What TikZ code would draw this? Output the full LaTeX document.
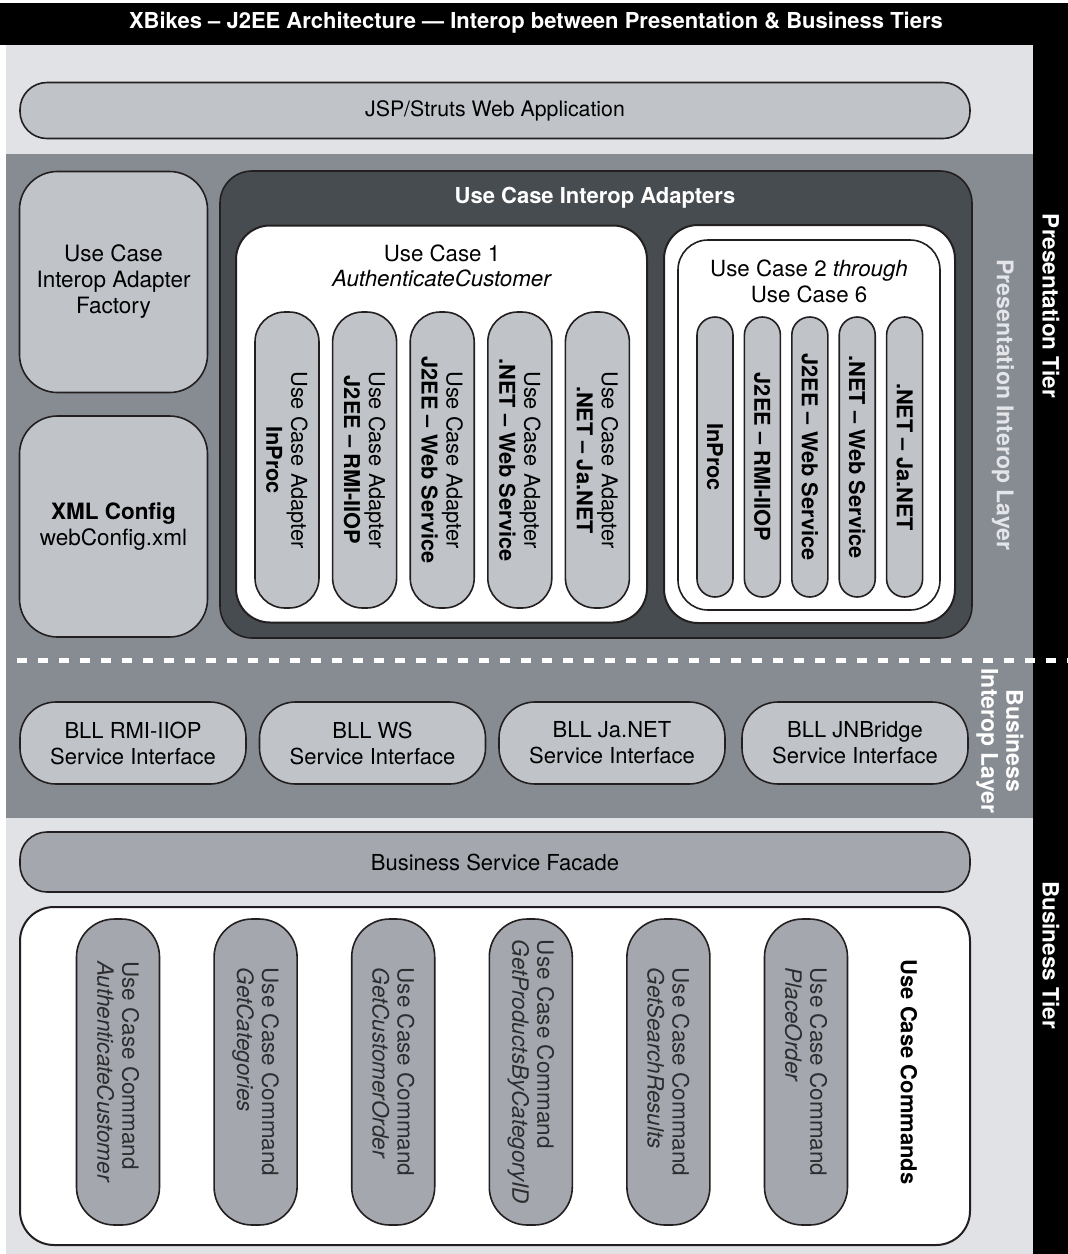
\documentclass[tikz,border=0pt]{standalone}
\usepackage{fontspec}
\setmainfont{TeX Gyre Heros}

\definecolor{pagegray}{RGB}{225,226,230}
\definecolor{layergray}{RGB}{135,140,146}
\definecolor{slate}{RGB}{71,76,80}
\definecolor{pillgray}{RGB}{192,195,200}
\definecolor{cmdgray}{RGB}{164,168,174}
\definecolor{cmdtext}{RGB}{45,45,48}
\definecolor{edge}{RGB}{35,31,32}
\definecolor{paletext}{RGB}{228,229,232}

\newcommand{\pxfont}[2]{\fontsize{#1}{#2}\selectfont}

\tikzset{
  box/.style={draw=edge, line width=1.6pt, align=center, inner sep=0pt},
  band/.style={box, minimum width=950, minimum height=56, rounded corners=27, font=\pxfont{21.3}{25}},
  panel/.style={box, fill=pillgray, minimum width=188, minimum height=221, rounded corners=38, font=\pxfont{22.5}{26}},
  adapter/.style={box, fill=pillgray, rotate=-90, minimum width=296, minimum height=64, rounded corners=30, font=\pxfont{21.8}{25}},
  stub/.style={box, fill=pillgray, rotate=-90, minimum width=280, minimum height=36, rounded corners=18, font=\pxfont{21.8}{25}\bfseries},
  bll/.style={box, fill=pillgray, minimum width=226, minimum height=82, rounded corners=36, font=\pxfont{22}{26}},
  command/.style={box, fill=cmdgray, rotate=-90, minimum width=306, minimum height=83, rounded corners=38, align=left, text=cmdtext, font=\pxfont{22.5}{25}},
  tier/.style={rotate=-90, text=white, font=\pxfont{22.5}{25}\bfseries},
}

\begin{document}
\begin{tikzpicture}[x=1pt,y=-1pt]
  \useasboundingbox (0,0) rectangle (1068,1254);
  % backdrop, layers and tier column
  \fill[white] (0,0) rectangle (1068,1254);
  \fill[pagegray] (6,45) rectangle (1033,1254);
  \fill[layergray] (6,154) rectangle (1033,818);
  \fill[black] (0,3) rectangle (1068,45);
  \fill[black] (1033,3) rectangle (1068,1254);
  \draw[white, line width=5pt, dash pattern=on 10pt off 11pt] (17,660) -- (1068,660);

  \node at (536,23) [text=white, font=\pxfont{22}{24}\bfseries] (title) {XBikes – J2EE Architecture — Interop between Presentation \& Business Tiers};

  \node at (1051,306) [tier] (prestier) {Presentation Tier};
  \node at (1051,955) [tier] (bustier) {Business Tier};
  \node at (1003,405) [tier, text=paletext, font=\pxfont{23}{25}\bfseries] (presinterop) {Presentation Interop Layer};
  \node at (1000,741) [tier, align=center, font=\pxfont{23}{25}\bfseries] (businterop) {Business\\Interop Layer};

  % presentation tier
  \node at (495,110.5) [band, fill=pillgray] (webapp) {JSP/Struts Web Application};

  \node at (113.5,282) [panel] (factory) {Use Case\\Interop Adapter\\Factory};
  \node at (113.5,526.5) [panel] (config) {\textbf{XML Config}\\webConfig.xml};

  \node at (596,404.5) [box, fill=slate, minimum width=752, minimum height=467, rounded corners=32] (adapters) {};
  \node at (595,198) [text=white, font=\pxfont{22}{24}\bfseries] (adapterstitle) {Use Case Interop Adapters};

  \node at (441.5,424) [box, fill=white, line width=2pt, minimum width=411, minimum height=397, rounded corners=34] (uc1) {};
  \node at (442,266) [font=\pxfont{22.3}{25}, align=center] (uc1title) {Use Case 1\\\textit{AuthenticateCustomer}};
  \node at (287,460) [adapter] (uc1inproc) {Use Case Adapter\\\textbf{InProc}};
  \node at (364.6,460) [adapter] (uc1rmi) {Use Case Adapter\\\textbf{J2EE – RMI-IIOP}};
  \node at (442.2,460) [adapter] (uc1j2eews) {Use Case Adapter\\\textbf{J2EE – Web Service}};
  \node at (519.8,460) [adapter] (uc1netws) {Use Case Adapter\\\textbf{.NET – Web Service}};
  \node at (597.4,460) [adapter] (uc1janet) {Use Case Adapter\\\textbf{.NET – Ja.NET}};

  \node at (809.5,424) [box, fill=white, line width=2pt, minimum width=291, minimum height=398, rounded corners=34] (ucrest) {};
  \node at (809,425) [box, fill=white, minimum width=262, minimum height=370, rounded corners=30] (ucrestinner) {};
  \node at (809,281) [font=\pxfont{22.3}{26}, align=center] (ucresttitle) {Use Case 2 \textit{through}\\Use Case 6};
  \node at (715,457) [stub] (restinproc) {InProc};
  \node at (762.4,457) [stub] (restrmi) {J2EE – RMI-IIOP};
  \node at (809.8,457) [stub] (restj2eews) {J2EE – Web Service};
  \node at (857.2,457) [stub] (restnetws) {.NET – Web Service};
  \node at (904.6,457) [stub] (restjanet) {.NET – Ja.NET};

  % business interop layer
  \node at (133,743) [bll] (bllrmi) {BLL RMI-IIOP\\Service Interface};
  \node at (372.5,743) [bll] (bllws) {BLL WS\\Service Interface};
  \node at (612,743) [bll] (blljanet) {BLL Ja.NET\\Service Interface};
  \node at (855,743) [bll] (blljnb) {BLL JNBridge\\Service Interface};

  % business tier
  \node at (495,862) [band, fill=cmdgray, minimum height=60, font=\pxfont{22}{25}] (facade) {Business Service Facade};

  \node at (495,1076) [box, fill=white, line width=2pt, minimum width=950, minimum height=338, rounded corners=34] (commands) {};
  \node at (909,1072) [rotate=-90, font=\pxfont{22}{24}\bfseries] (commandstitle) {Use Case Commands};
  \node at (118,1072) [command] (cmdauth) {Use Case Command\\\textit{AuthenticateCustomer}};
  \node at (255.6,1072) [command] (cmdcat) {Use Case Command\\\textit{GetCategories}};
  \node at (393.2,1072) [command] (cmdorder) {Use Case Command\\\textit{GetCustomerOrder}};
  \node at (530.8,1072) [command] (cmdproducts) {Use Case Command\\\textit{GetProductsByCategoryID}};
  \node at (668.4,1072) [command] (cmdsearch) {Use Case Command\\\textit{GetSearchResults}};
  \node at (806,1072) [command] (cmdplace) {Use Case Command\\\textit{PlaceOrder}};
\end{tikzpicture}
\end{document}
